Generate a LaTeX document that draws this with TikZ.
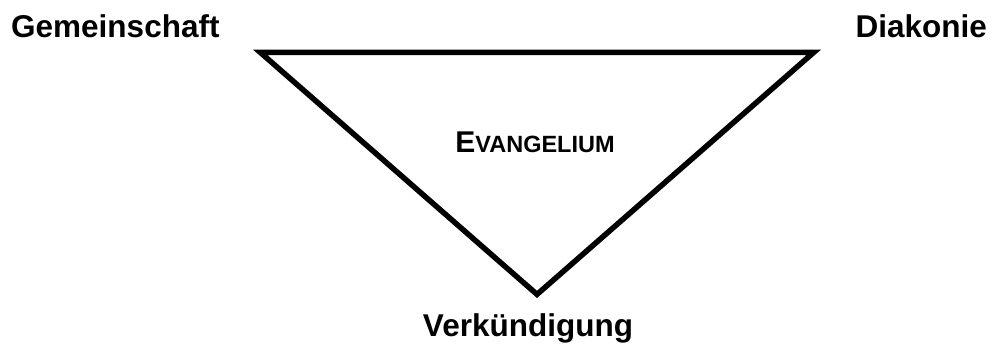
\documentclass[tikz,border=0pt]{standalone}
\usepackage{fontspec}
\setmainfont{Liberation Sans}
\tikzset{
  lbl/.style={font=\fontsize{31.5}{36}\selectfont\bfseries, inner sep=0pt},
  tri/.style={line width=5.5pt, line join=miter}
}
\begin{document}
\begin{tikzpicture}[x=1pt,y=-1pt]
\useasboundingbox (0,0) rectangle (994,352);
\coordinate (tl) at (260.4,52.5);
\coordinate (tr) at (813.6,52.5);
\coordinate (bt) at (537,294.4);
\draw[tri] (tl) -- (tr) -- (bt) -- cycle;
\node[lbl, anchor=base west] (gem) at (11,38) {Gemeinschaft};
\node[lbl, anchor=base east] (dia) at (987,38) {Diakonie};
\node[lbl, anchor=base] (ver) at (528,337) {Verkündigung};
\node[inner sep=0pt, anchor=base, font=\bfseries] (ev) at (535,153) {\fontsize{30}{36}\selectfont E\fontsize{23.5}{36}\selectfont VANGELIUM};
\end{tikzpicture}
\end{document}
